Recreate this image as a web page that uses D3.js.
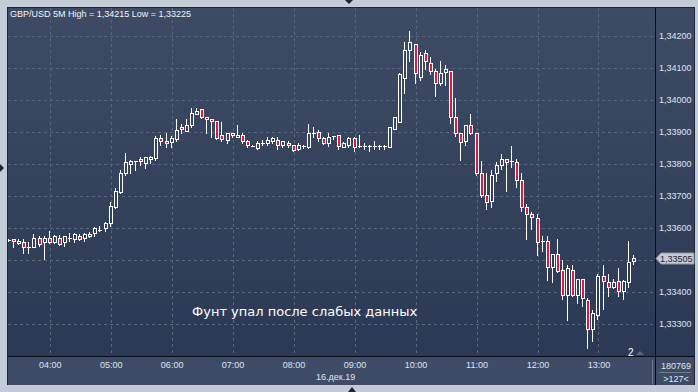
<!DOCTYPE html>
<html>
<head>
<meta charset="utf-8">
<script src="https://cdn.jsdelivr.net/npm/d3@7"></script>
<style>
  body { margin: 0; background: #c3cbd7; }
  svg { display: block; font-family: "Liberation Sans", Arial, sans-serif; }
</style>
</head>
<body>
<script>
// 5 minute candles, GBP/USD, 16 dec 2019, first bar at 03:20
const startTime = '2019-12-16 03:20'
const open = [
  1.33563, 1.33565, 1.33554, 1.33555, 1.33541, 1.33542, 1.33568, 1.33555, 1.33568, 1.33555,
  1.33569, 1.33555, 1.33567, 1.33565, 1.33574, 1.33568, 1.33576, 1.33583, 1.33592, 1.33599,
  1.33617, 1.33666, 1.33713, 1.33773, 1.33800, 1.33806, 1.33816, 1.33804, 1.33815, 1.33819,
  1.33882, 1.33872, 1.33869, 1.33878, 1.33915, 1.33904, 1.33923, 1.33955, 1.33972, 1.33946,
  1.33940, 1.33934, 1.33890, 1.33875, 1.33896, 1.33883, 1.33890, 1.33873, 1.33857, 1.33850,
  1.33866, 1.33865, 1.33873, 1.33875, 1.33858, 1.33866, 1.33858, 1.33848, 1.33854, 1.33854,
  1.33898, 1.33899, 1.33881, 1.33865, 1.33888, 1.33890, 1.33854, 1.33858, 1.33881, 1.33856,
  1.33856, 1.33856, 1.33856, 1.33856, 1.33856, 1.33854, 1.33908, 1.33932, 1.34070, 1.34156,
  1.34175, 1.34073, 1.34146, 1.34115, 1.34090, 1.34052, 1.34088, 1.34090, 1.33946, 1.33896,
  1.33871, 1.33921, 1.33896, 1.33773, 1.33704, 1.33683, 1.33771, 1.33798, 1.33815, 1.33808,
  1.33806, 1.33750, 1.33665, 1.33644, 1.33631, 1.33558, 1.33558, 1.33479, 1.33519, 1.33469,
  1.33392, 1.33469, 1.33390, 1.33440, 1.33375, 1.33283, 1.33329, 1.33450, 1.33431, 1.33417,
  1.33435, 1.33404, 1.33431, 1.33498
]
const high = [
  1.33566, 1.33566, 1.33567, 1.33565, 1.33556, 1.33581, 1.33575, 1.33575, 1.33591, 1.33578,
  1.33579, 1.33576, 1.33583, 1.33583, 1.33580, 1.33585, 1.33587, 1.33602, 1.33606, 1.33619,
  1.33681, 1.33725, 1.33781, 1.33833, 1.33813, 1.33810, 1.33823, 1.33822, 1.33825, 1.33888,
  1.33891, 1.33898, 1.33888, 1.33940, 1.33925, 1.33940, 1.33975, 1.33974, 1.33972, 1.33947,
  1.33941, 1.33935, 1.33931, 1.33898, 1.33898, 1.33923, 1.33898, 1.33875, 1.33858, 1.33871,
  1.33875, 1.33883, 1.33883, 1.33883, 1.33873, 1.33873, 1.33860, 1.33865, 1.33860, 1.33925,
  1.33915, 1.33906, 1.33883, 1.33896, 1.33888, 1.33891, 1.33869, 1.33885, 1.33885, 1.33890,
  1.33865, 1.33860, 1.33871, 1.33858, 1.33858, 1.33915, 1.33946, 1.34085, 1.34181, 1.34215,
  1.34175, 1.34150, 1.34156, 1.34133, 1.34098, 1.34121, 1.34108, 1.34091, 1.34006, 1.33897,
  1.33922, 1.33956, 1.33897, 1.33809, 1.33771, 1.33781, 1.33806, 1.33831, 1.33815, 1.33856,
  1.33815, 1.33771, 1.33675, 1.33650, 1.33644, 1.33575, 1.33575, 1.33519, 1.33565, 1.33500,
  1.33483, 1.33483, 1.33441, 1.33441, 1.33381, 1.33344, 1.33456, 1.33483, 1.33456, 1.33440,
  1.33475, 1.33436, 1.33560, 1.33515
]
const low = [
  1.33559, 1.33542, 1.33550, 1.33523, 1.33523, 1.33541, 1.33544, 1.33504, 1.33554, 1.33553,
  1.33547, 1.33544, 1.33558, 1.33555, 1.33563, 1.33558, 1.33571, 1.33574, 1.33591, 1.33592,
  1.33606, 1.33663, 1.33709, 1.33765, 1.33773, 1.33781, 1.33796, 1.33788, 1.33802, 1.33813,
  1.33858, 1.33854, 1.33854, 1.33873, 1.33898, 1.33903, 1.33915, 1.33955, 1.33945, 1.33898,
  1.33885, 1.33879, 1.33873, 1.33865, 1.33883, 1.33883, 1.33867, 1.33854, 1.33855, 1.33848,
  1.33858, 1.33858, 1.33867, 1.33848, 1.33854, 1.33854, 1.33842, 1.33844, 1.33849, 1.33849,
  1.33885, 1.33873, 1.33863, 1.33856, 1.33879, 1.33848, 1.33852, 1.33854, 1.33842, 1.33854,
  1.33846, 1.33840, 1.33848, 1.33848, 1.33848, 1.33854, 1.33908, 1.33932, 1.34023, 1.34121,
  1.34054, 1.34063, 1.34098, 1.34081, 1.34013, 1.34046, 1.34046, 1.33927, 1.33888, 1.33813,
  1.33858, 1.33895, 1.33765, 1.33698, 1.33658, 1.33665, 1.33748, 1.33783, 1.33715, 1.33790,
  1.33729, 1.33654, 1.33567, 1.33598, 1.33515, 1.33529, 1.33438, 1.33431, 1.33464, 1.33379,
  1.33313, 1.33389, 1.33367, 1.33356, 1.33225, 1.33248, 1.33317, 1.33348, 1.33388, 1.33413,
  1.33388, 1.33379, 1.33415, 1.33488
]
const close = [
  1.33562, 1.33558, 1.33558, 1.33540, 1.33542, 1.33568, 1.33549, 1.33568, 1.33555, 1.33575,
  1.33549, 1.33574, 1.33568, 1.33580, 1.33566, 1.33580, 1.33581, 1.33599, 1.33593, 1.33615,
  1.33669, 1.33716, 1.33773, 1.33806, 1.33809, 1.33809, 1.33808, 1.33822, 1.33821, 1.33881,
  1.33871, 1.33865, 1.33880, 1.33906, 1.33908, 1.33923, 1.33958, 1.33966, 1.33946, 1.33940,
  1.33934, 1.33881, 1.33879, 1.33896, 1.33890, 1.33890, 1.33873, 1.33858, 1.33856, 1.33867,
  1.33867, 1.33875, 1.33880, 1.33858, 1.33872, 1.33858, 1.33844, 1.33858, 1.33855, 1.33898,
  1.33894, 1.33881, 1.33865, 1.33883, 1.33888, 1.33856, 1.33865, 1.33881, 1.33854, 1.33856,
  1.33856, 1.33856, 1.33856, 1.33856, 1.33856, 1.33915, 1.33946, 1.34081, 1.34156, 1.34181,
  1.34083, 1.34142, 1.34121, 1.34090, 1.34054, 1.34083, 1.34096, 1.33946, 1.33896, 1.33869,
  1.33921, 1.33896, 1.33771, 1.33704, 1.33681, 1.33765, 1.33796, 1.33815, 1.33806, 1.33808,
  1.33750, 1.33665, 1.33644, 1.33633, 1.33556, 1.33558, 1.33479, 1.33519, 1.33465, 1.33390,
  1.33474, 1.33390, 1.33440, 1.33381, 1.33283, 1.33333, 1.33450, 1.33433, 1.33415, 1.33431,
  1.33404, 1.33435, 1.33494, 1.33505
]
const priceTicks = [1.333, 1.334, 1.335, 1.336, 1.337, 1.338, 1.339, 1.340, 1.341, 1.342]
const timeTicks = ['04:00', '05:00', '06:00', '07:00', '08:00', '09:00', '10:00', '11:00', '12:00', '13:00']
const lastPrice = 1.33505
const title = 'GBP/USD 5M High = 1,34215 Low = 1,33225'
const note = 'Фунт упал после слабых данных'
const dateLabel = '16.дек.19'
const volumeLabel = '180769'
const barsLabel = '>127<'

const W = 698, H = 392
const plot = {left: 8, top: 8, right: 655, bottom: 356}

const parse = d3.timeParse('%Y-%m-%d %H:%M')
const t0 = parse(startTime)
const times = open.map((d, i) => d3.timeMinute.offset(t0, 5 * i))
const tickDates = timeTicks.map(t => parse('2019-12-16 ' + t))
const fmtPrice = d => d3.format('.5f')(d).replace('.', ',')

const x = d3.scaleTime()
    .domain([parse('2019-12-16 03:19'), d3.timeSecond.offset(parse('2019-12-16 13:55'), 36)])
    .range([plot.left, plot.right])

const y = d3.scaleLinear()
    .domain([1.332, 1.342875])
    .range([plot.bottom, plot.top])

const svg = d3.select('body').append('svg')
    .attr('width', W)
    .attr('height', H)

const defs = svg.append('defs')
const grad = defs.append('linearGradient')
    .attr('id', 'bg')
    .attr('gradientUnits', 'userSpaceOnUse')
    .attr('x1', 0).attr('y1', plot.top).attr('x2', 0).attr('y2', plot.bottom)
grad.append('stop').attr('offset', 0).attr('stop-color', '#3e4b65')
grad.append('stop').attr('offset', 1).attr('stop-color', '#2c3954')

defs.append('clipPath').attr('id', 'clip')
    .append('rect')
    .attr('x', plot.left).attr('y', plot.top)
    .attr('width', plot.right - plot.left).attr('height', plot.bottom - plot.top)

// frame
svg.append('rect').attr('width', W).attr('height', H).attr('fill', '#c3cbd7')
svg.append('rect')
    .attr('x', plot.left).attr('y', plot.top)
    .attr('width', 694 - plot.left).attr('height', plot.bottom - plot.top)
    .attr('fill', 'url(#bg)')
svg.append('rect')
    .attr('x', plot.left).attr('y', plot.bottom)
    .attr('width', 694 - plot.left).attr('height', 385 - plot.bottom)
    .attr('fill', '#3e4c67')

// grid
const grid = svg.append('g')
    .attr('stroke', '#586680')
    .attr('stroke-dasharray', '3,3')
    .attr('shape-rendering', 'crispEdges')
grid.selectAll('.hg')
    .data(priceTicks)
    .join('line')
    .attr('x1', plot.left).attr('x2', plot.right)
    .attr('y1', d => Math.round(y(d)) + 0.5).attr('y2', d => Math.round(y(d)) + 0.5)
grid.selectAll('.vg')
    .data(tickDates)
    .join('line')
    .attr('x1', d => Math.round(x(d)) + 0.5).attr('x2', d => Math.round(x(d)) + 0.5)
    .attr('y1', plot.top).attr('y2', plot.bottom)

// candles
const candles = svg.append('g')
    .attr('clip-path', 'url(#clip)')
    .attr('shape-rendering', 'crispEdges')

const bars = candles.selectAll('g')
    .data(times)
    .join('g')

bars.append('line')
    .attr('x1', (d, i) => Math.round(x(d)) - 0.5)
    .attr('x2', (d, i) => Math.round(x(d)) - 0.5)
    .attr('y1', (d, i) => Math.round(y(high[i])))
    .attr('y2', (d, i) => Math.round(y(low[i])) + 1)
    .attr('stroke', 'white')

bars.each(function(d, i) {
    const g = d3.select(this)
    const cx = Math.round(x(d))
    const top = Math.round(y(Math.max(open[i], close[i])))
    const bot = Math.round(y(Math.min(open[i], close[i])))
    if (bot - top < 2) {
        g.append('line')
            .attr('x1', cx - 2).attr('x2', cx + 2)
            .attr('y1', top + 0.5).attr('y2', top + 0.5)
            .attr('stroke', 'white')
    } else {
        g.append('rect')
            .attr('x', cx - 1.5).attr('y', top + 0.5)
            .attr('width', 3).attr('height', bot - top)
            .attr('fill', close[i] < open[i] ? '#e3173d' : 'url(#bg)')
            .attr('stroke', 'white')
    }
})

// borders
const borders = svg.append('g').attr('shape-rendering', 'crispEdges')
borders.append('line').attr('x1', 7.5).attr('x2', 7.5).attr('y1', 7).attr('y2', 385).attr('stroke', '#1d2536')
borders.append('line').attr('x1', 7).attr('x2', 695).attr('y1', 7.5).attr('y2', 7.5).attr('stroke', '#1d2536')
borders.append('line').attr('x1', 694.5).attr('x2', 694.5).attr('y1', 7).attr('y2', 385).attr('stroke', '#1d2536')
borders.append('line').attr('x1', 655.5).attr('x2', 655.5).attr('y1', 8).attr('y2', 385).attr('stroke', '#0b0f18')
borders.append('line').attr('x1', 8).attr('x2', 694).attr('y1', 356.5).attr('y2', 356.5).attr('stroke', '#0b0f18')
borders.append('line').attr('x1', 652.5).attr('x2', 652.5).attr('y1', 360).attr('y2', 384).attr('stroke', '#6f7c93')
borders.append('line').attr('x1', 659).attr('x2', 691).attr('y1', 372.5).attr('y2', 372.5).attr('stroke', '#6f7c93')

// axes
const yAxis = svg.append('g')
    .attr('transform', `translate(${plot.right}, 0)`)
    .call(d3.axisRight(y).tickValues(priceTicks).tickSize(0).tickPadding(4).tickFormat(fmtPrice))
yAxis.select('.domain').remove()
yAxis.selectAll('text')
    .attr('fill', '#dfe5ef')
    .style('font-size', '9px')

const xAxis = svg.append('g')
    .attr('transform', `translate(0, ${plot.bottom})`)
    .call(d3.axisBottom(x).tickValues(tickDates).tickSize(0).tickPadding(6).tickFormat(d3.timeFormat('%H:%M')))
xAxis.select('.domain').remove()
xAxis.selectAll('text')
    .attr('fill', '#dfe5ef')
    .style('font-size', '9px')

svg.append('text')
    .attr('x', 316).attr('y', 380)
    .attr('fill', '#dfe5ef')
    .style('font-size', '9px')
    .text(dateLabel)

svg.append('text')
    .attr('x', 676).attr('y', 369)
    .attr('text-anchor', 'middle')
    .attr('fill', '#dfe5ef')
    .style('font-size', '9px')
    .text(volumeLabel)

svg.append('text')
    .attr('x', 676).attr('y', 382)
    .attr('text-anchor', 'middle')
    .attr('fill', '#dfe5ef')
    .style('font-size', '9px')
    .text(barsLabel)

// last price marker
const ly = Math.round(y(lastPrice))
svg.append('path')
    .attr('d', `M656,${ly + 0.5} L661,${ly - 5} L694,${ly - 5} L694,${ly + 6} L661,${ly + 6} Z`)
    .attr('fill', '#c6cad2')
    .attr('stroke', '#8c94a4')
svg.append('text')
    .attr('x', 660).attr('y', ly + 4)
    .attr('fill', '#1b2538')
    .style('font-size', '9px')
    .text(fmtPrice(lastPrice))

// title and note
svg.append('text')
    .attr('x', 10).attr('y', 17)
    .attr('fill', '#f2f4f8')
    .style('font-size', '9px')
    .text(title)

svg.append('text')
    .attr('x', 192).attr('y', 316)
    .attr('fill', 'white')
    .style('font-family', '"DejaVu Sans", sans-serif')
    .style('font-size', '13px')
    .text(note)

svg.append('text')
    .attr('x', 628).attr('y', 356)
    .attr('fill', 'white')
    .style('font-size', '10px')
    .text('2')
svg.append('path').attr('d', 'M636,355 L640,351 L644,355 Z').attr('fill', '#5d6a82')

// small arrows on the frame
svg.append('path').attr('d', 'M345,0 L353,0 L349,4 Z').attr('fill', '#1d2536')
svg.append('path').attr('d', 'M348,392 L356,392 L352,387 Z').attr('fill', '#1d2536')
svg.append('path').attr('d', 'M0,164 L0,172 L4,168 Z').attr('fill', '#1d2536')
</script>
</body>
</html>
